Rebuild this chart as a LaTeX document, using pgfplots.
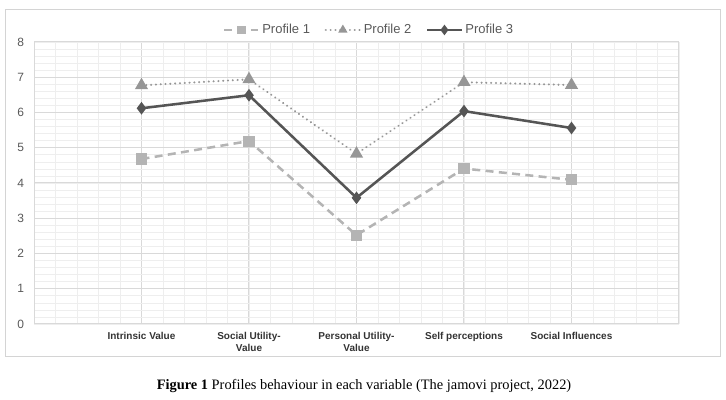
\documentclass[border=0pt]{standalone}
\usepackage{fontspec}
\setmainfont{Liberation Sans}
\newfontfamily\capfont{Liberation Serif}
\usepackage{pgfplots}
\pgfplotsset{compat=1.18}

\definecolor{pone}{HTML}{B4B4B4}
\definecolor{ptwo}{HTML}{969696}
\definecolor{pthree}{HTML}{555555}
\definecolor{gridmaj}{HTML}{D9D9D9}
\definecolor{gridmin}{HTML}{EEEEEE}
\definecolor{frame}{HTML}{D4D4D4}
\definecolor{ticktxt}{HTML}{595959}

\begin{document}
\begin{tikzpicture}
% page = 726 x 400 px, 1px = 0.75pt
\path (0,0) rectangle (544.5pt,300pt);
\draw[frame, line width=0.75pt] (3.75pt,32.25pt) rectangle (540pt,292.5pt);

\begin{axis}[
    at={(25.5pt,57pt)}, anchor=south west,
    scale only axis,
    width=483.75pt, height=211.5pt,
    xmin=0, xmax=6, ymin=0, ymax=8,
    xtick={1,2,3,4,5},
    xticklabels={Intrinsic Value, {Social Utility-\\Value}, {Personal Utility-\\Value}, Self perceptions, Social Influences},
    ytick={0,1,...,8},
    minor xtick={0,0.2,...,6},
    minor ytick={0,0.2,...,8},
    grid=both,
    major grid style={gridmaj, line width=0.75pt},
    minor grid style={gridmin, line width=0.5pt},
    axis line style={gridmaj, line width=0.75pt},
    major tick length=0pt, minor tick length=0pt,
    /pgf/number format/assume math mode=true,
    yticklabel style={font=\fontsize{9}{10}\selectfont, text=ticktxt, xshift=-4pt},
    xticklabel style={font=\bfseries\fontsize{7.5}{8.5}\selectfont, text=black!80, align=center, yshift=-3pt},
    legend columns=3,
    legend style={at={(0.52,1.0426)}, anchor=center, draw=none, fill=none,
        font=\fontsize{9.75}{11}\selectfont, text=ticktxt,
        /tikz/every even column/.append style={column sep=9pt}},
    legend image code/.code={\draw[mark repeat=2,mark phase=2,#1,mark size=2.4pt] plot coordinates {(0cm,0cm) (0.45cm,0cm) (0.9cm,0cm)};},
]
\addplot[pone, line width=1.9pt, dash pattern=on 6pt off 4pt,
    mark=square*, mark size=3.2pt, mark options={solid, fill=pone, draw=pone}]
coordinates {(1,4.68) (2,5.19) (3,2.52) (4,4.41) (5,4.09)};
\addlegendentry{Profile 1}

\addplot[ptwo, line width=1.7pt, line cap=round, dash pattern=on 0.01pt off 3.6pt,
    mark=triangle*, mark size=4pt, mark options={solid, fill=ptwo, draw=ptwo}]
coordinates {(1,6.77) (2,6.94) (3,4.83) (4,6.86) (5,6.78)};
\addlegendentry{Profile 2}

\addplot[pthree, line width=1.9pt,
    mark=diamond*, mark size=3.2pt, mark options={solid, fill=pthree, draw=pthree}]
coordinates {(1,6.12) (2,6.49) (3,3.58) (4,6.04) (5,5.56)};
\addlegendentry{Profile 3}
\end{axis}

\node[anchor=base, font=\capfont\fontsize{10.8}{12}\selectfont] at (273pt,8pt)
    {\textbf{Figure 1} Profiles behaviour in each variable (The jamovi project, 2022)};
\end{tikzpicture}
\end{document}
